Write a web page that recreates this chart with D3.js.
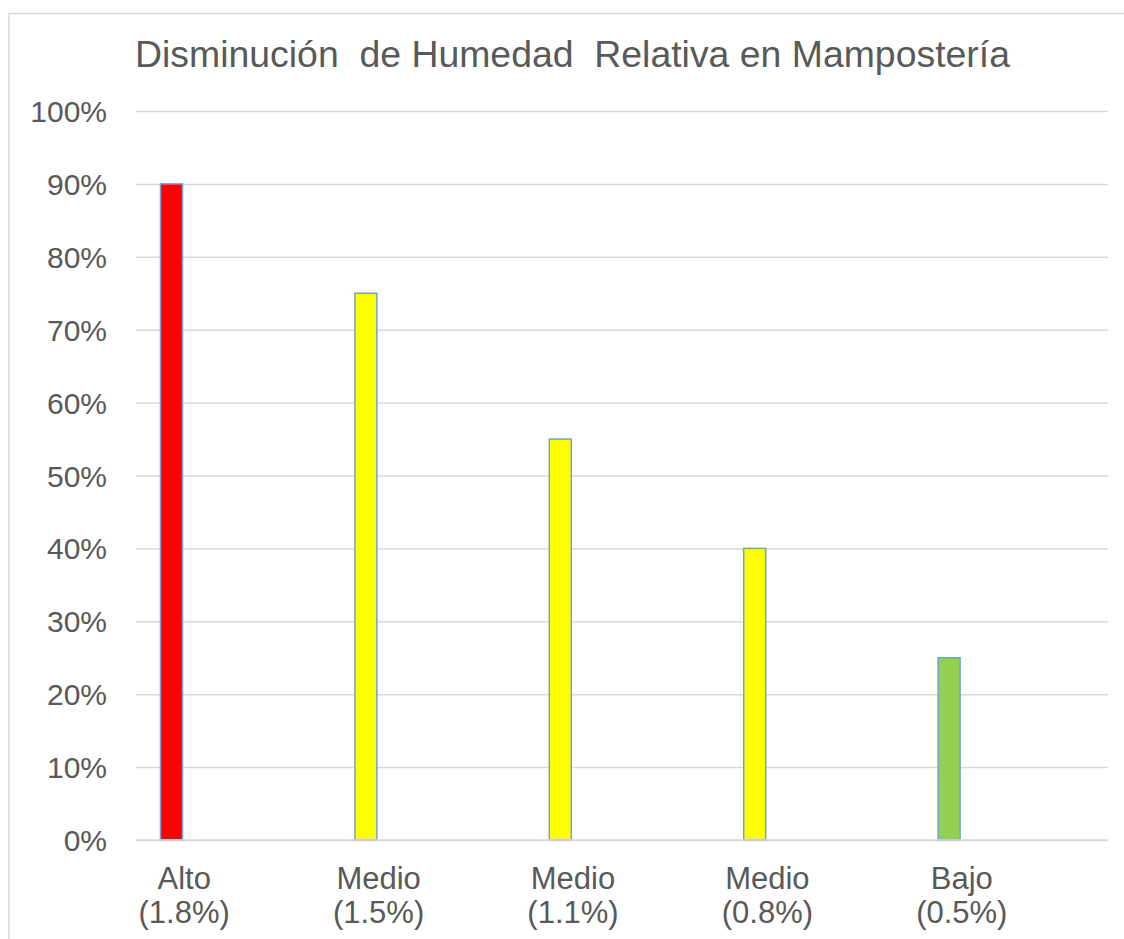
<!DOCTYPE html>
<html>
<head>
<meta charset="utf-8">
<script src="https://cdn.jsdelivr.net/npm/d3@7"></script>
<style>
  html, body { margin: 0; padding: 0; background: #ffffff; }
  svg { display: block; }
  text { font-family: "Liberation Sans", Arial, sans-serif; fill: #595959; }
</style>
</head>
<body>
<svg id="chart" width="1124" height="939"></svg>
<script>
// ---- Data ----
const categories = ["Alto", "Medio", "Medio", "Medio", "Bajo"];
const rateLabels = ["(1.8%)", "(1.5%)", "(1.1%)", "(0.8%)", "(0.5%)"];
const values = [0.90, 0.75, 0.55, 0.40, 0.25];
const barColors = ["#FF0000", "#FFFF00", "#FFFF00", "#FFFF00", "#92D050"];
const yTickValues = [0, 0.1, 0.2, 0.3, 0.4, 0.5, 0.6, 0.7, 0.8, 0.9, 1.0];
const title = "Disminución\u00A0 de Humedad\u00A0 Relativa en Mampostería";

// ---- Layout ----
const svg = d3.select("#chart");
const plot = { left: 136, right: 1108, top: 111, bottom: 840 };

// chart border (extends beyond the picture on the right and bottom)
svg.append("rect")
  .attr("x", 9).attr("y", 13.5)
  .attr("width", 1160).attr("height", 1000)
  .attr("fill", "#ffffff")
  .attr("stroke", "#d9d9d9").attr("stroke-width", 1.5);

const x = d3.scaleBand()
  .domain(d3.range(categories.length))
  .range([plot.left, plot.right])
  .paddingInner(0).paddingOuter(0);

const y = d3.scaleLinear()
  .domain([0, 1])
  .range([plot.bottom, plot.top]);

// gridlines + y tick labels
const yAxis = d3.axisLeft(y)
  .tickValues(yTickValues)
  .tickFormat(d3.format(".0%"))
  .tickSize(-(plot.right - plot.left))
  .tickPadding(29);

const gy = svg.append("g")
  .attr("transform", `translate(${plot.left},0)`)
  .call(yAxis);
gy.select(".domain").remove();
gy.selectAll(".tick line")
  .attr("stroke", "#d9d9d9").attr("stroke-width", 1.5);
gy.selectAll(".tick text")
  .attr("font-size", 30)
  .attr("dy", "0.35em")
  .style("fill", "#595959")
  .attr("font-family", "Liberation Sans, Arial, sans-serif");

// bars
const barW = 22;
const barOffset = 24.5;
svg.append("g").selectAll("rect")
  .data(values)
  .join("rect")
  .attr("x", (d, i) => x(i) + barOffset)
  .attr("y", d => y(d))
  .attr("width", barW)
  .attr("height", d => y(0) - y(d))
  .attr("fill", (d, i) => barColors[i])
  .attr("stroke", "#6FA3D8")
  .attr("stroke-width", 1.5);

// x axis baseline
svg.append("line")
  .attr("x1", plot.left).attr("x2", plot.right)
  .attr("y1", y(0)).attr("y2", y(0))
  .attr("stroke", "#d9d9d9").attr("stroke-width", 1.5);

// category labels
const labelOffset = 48.2;
const lab = svg.append("g").selectAll("text")
  .data(categories)
  .join("text")
  .attr("text-anchor", "middle")
  .attr("font-size", 31)
  .attr("x", (d, i) => x(i) + labelOffset)
  .attr("y", 889);
lab.append("tspan")
  .attr("x", (d, i) => x(i) + labelOffset)
  .text(d => d);
lab.append("tspan")
  .attr("x", (d, i) => x(i) + labelOffset)
  .attr("dy", 34)
  .text((d, i) => rateLabels[i]);

// title
svg.append("text")
  .attr("x", 572.5)
  .attr("y", 67)
  .attr("text-anchor", "middle")
  .attr("font-size", 37.4)
  .text(title);
</script>
</body>
</html>
